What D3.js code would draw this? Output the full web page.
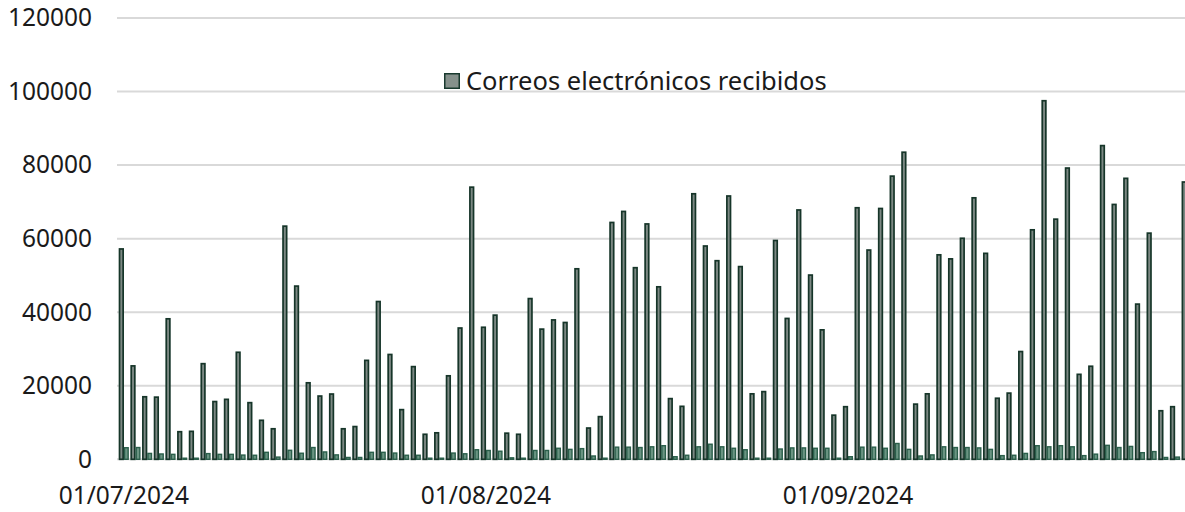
<!DOCTYPE html>
<html>
<head>
<meta charset="utf-8">
<script src="https://cdn.jsdelivr.net/npm/d3@7"></script>
<style>
  html, body { margin: 0; padding: 0; background: #fff; }
  svg { display: block; }
</style>
</head>
<body>
<svg id="chart" width="1185" height="512"></svg>
<script>
// daily values, 01/07/2024 .. 30/09/2024
const startDate = new Date(2024, 6, 1)
const received = [
  57200, 25400, 17000, 16900, 38200, 7500, 7600,
  26000, 15700, 16300, 29100, 15400, 10600, 8300,
  63400, 47100, 20800, 17200, 17750, 8300, 8900,
  26900, 42900, 28500, 13500, 25200, 6800, 7200,
  22700, 35700, 74000, 35900, 39200, 7100, 6800,
  43700, 35400, 37900, 37200, 51800, 8500, 11600,
  64400, 67400, 52100, 64000, 46900, 16500, 14400,
  72200, 58000, 54000, 71600, 52400, 17800, 18400,
  59500, 38300, 67800, 50100, 35200, 12000, 14300,
  68400, 56900, 68200, 77000, 83500, 15000, 17800,
  55600, 54500, 60100, 71100, 56000, 16600, 18000,
  29300, 62400, 97500, 65300, 79200, 23100, 25300,
  85300, 69300, 76400, 42200, 61500, 13200, 14300,
  75400
]
const secondary = [
  3150, 3200, 1600, 1450, 1350, 300, 300,
  1550, 1350, 1350, 1150, 1100, 1900, 600,
  2450, 1650, 3200, 2000, 1200, 500, 500,
  1900, 1900, 1700, 1100, 1100, 300, 300,
  1700, 1500, 2600, 2400, 2200, 400, 300,
  2400, 2400, 3000, 2700, 2900, 900, 300,
  3300, 3300, 3200, 3400, 3700, 700, 1100,
  3400, 4100, 3400, 3000, 2600, 300, 300,
  2800, 3100, 3100, 3000, 3000, 300, 700,
  3300, 3300, 3000, 4300, 2700, 900, 1200,
  3400, 3200, 3200, 3100, 2700, 1000, 1100,
  1600, 3700, 3400, 3700, 3400, 1000, 1400,
  3800, 3200, 3500, 1800, 2100, 500, 600,
  3000
]
const yTicks = [0, 20000, 40000, 60000, 80000, 100000, 120000]
const dateLabels = ['01/07/2024', '01/08/2024', '01/09/2024']
const legendLabel = 'Correos electrónicos recibidos'

const fontFamily = "'Noto Sans', sans-serif"
const svg = d3.select('#chart')

const days = received.map((v, i) => d3.timeDay.offset(startDate, i))
const fmt = d3.timeFormat('%d/%m/%Y')

const x = d3.scaleBand()
  .domain(days.map(d => fmt(d)))
  .range([118, 118 + 11.68 * days.length])
  .paddingInner(0.14)
  .paddingOuter(0.07)

const xSeries = d3.scaleBand()
  .domain(['received', 'secondary'])
  .range([0, x.bandwidth()])

const y = d3.scaleLinear().domain([0, 120000]).range([459.3, 18])

// gridlines
svg.append('g')
  .selectAll('line')
  .data(yTicks)
  .join('line')
  .attr('x1', 117).attr('x2', 1185)
  .attr('y1', d => y(d)).attr('y2', d => y(d))
  .attr('stroke', '#d9d9d9')
  .attr('stroke-width', 2)

// y axis labels
const yAxis = svg.append('g')
  .attr('transform', 'translate(92,0)')
  .call(d3.axisLeft(y).tickValues(yTicks).tickSize(0).tickPadding(0).tickFormat(d3.format('d')))
yAxis.select('.domain').remove()
yAxis.selectAll('text')
  .attr('font-family', fontFamily)
  .attr('font-size', 24.5)
  .attr('fill', '#1a1a1a')

// bars
const g = svg.append('g')
const rows = days.map((d, i) => ({ key: fmt(d), received: received[i], secondary: secondary[i] }))

g.selectAll('rect.received')
  .data(rows)
  .join('rect')
  .attr('class', 'received')
  .attr('x', d => x(d.key) + xSeries('received') + 0.7)
  .attr('y', d => y(d.received))
  .attr('width', xSeries.bandwidth() - 1.4)
  .attr('height', d => y(0) - y(d.received))
  .attr('fill', '#7c8883')
  .attr('stroke', '#163529')
  .attr('stroke-width', 1.7)

g.selectAll('rect.secondary')
  .data(rows)
  .join('rect')
  .attr('class', 'secondary')
  .attr('x', d => x(d.key) + xSeries('secondary') + 0.7)
  .attr('y', d => y(d.secondary))
  .attr('width', xSeries.bandwidth() - 1.4)
  .attr('height', d => y(0) - y(d.secondary))
  .attr('fill', '#6a9482')
  .attr('stroke', '#2b5f4b')
  .attr('stroke-width', 1.4)

// x labels
svg.append('g')
  .selectAll('text')
  .data(dateLabels)
  .join('text')
  .attr('x', d => x(d) + x.bandwidth() / 2)
  .attr('y', 504)
  .attr('text-anchor', 'middle')
  .attr('font-family', fontFamily)
  .attr('font-size', 24.5)
  .attr('fill', '#1a1a1a')
  .text(d => d)

// legend
const legend = svg.append('g').attr('transform', 'translate(444,73)')
legend.append('rect')
  .attr('x', 0.75).attr('y', 0.75)
  .attr('width', 14.5).attr('height', 14.5)
  .attr('fill', '#86918c')
  .attr('stroke', '#193a2f')
  .attr('stroke-width', 1.5)
legend.append('text')
  .attr('x', 22)
  .attr('y', 17)
  .attr('font-family', fontFamily)
  .attr('font-size', 25.5)
  .attr('fill', '#1a1a1a')
  .text(legendLabel)
</script>
</body>
</html>
